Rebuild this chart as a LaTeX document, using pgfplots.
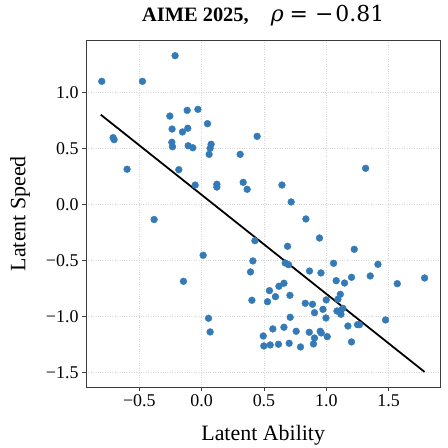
\documentclass[border=0pt]{standalone}
\usepackage{fontspec}
\setmainfont{Liberation Serif}
\newfontfamily\mathserif{DejaVu Serif}
\usepackage{pgfplots}
\pgfplotsset{compat=1.18}
\definecolor{dotblue}{RGB}{52,122,183}
\definecolor{gridgray}{RGB}{215,215,215}
\definecolor{spine}{RGB}{60,60,60}

\begin{document}
\begin{tikzpicture}
\begin{axis}[
  scale only axis,
  width=354bp, height=347bp,
  xmin=-0.927, xmax=1.914, ymin=-1.634, ymax=1.467,
  xtick={-0.5,0,0.5,1,1.5},
  xticklabels={−0.5,0.0,0.5,1.0,1.5},
  ytick={-1.5,-1,-0.5,0,0.5,1},
  yticklabels={−1.5,−1.0,−0.5,0.0,0.5,1.0},
  tick pos=left, tick align=outside, major tick length=4bp,
  grid=major,
  major grid style={gridgray, dotted, line width=0.8pt},
  axis line style={spine, line width=0.8pt},
  tick style={spine, line width=0.8pt},
  ticklabel style={font=\fontsize{18}{20}\selectfont},
  xlabel={Latent Ability},
  ylabel={Latent Speed},
  xlabel style={font=\fontsize{22}{24}\selectfont, at={(rel axis cs:0.5,0)}, anchor=base, yshift=-53bp},
  ylabel style={font=\fontsize{22}{24}\selectfont, at={(rel axis cs:0,0.5)}, anchor=center, yshift=66bp},
  title={\textbf{AIME 2025,}\hspace{22bp}{\mathserif\fontsize{22}{24}\selectfont{\itshape ρ}\hspace{6bp}=\hspace{7bp}−\hspace{2bp}0.81}},
  title style={font=\fontsize{20.5}{24}\selectfont, at={(rel axis cs:0.5,1)}, anchor=base, yshift=13bp},
]
% per-model latent estimates
\addplot[only marks, mark=*, mark size=3.4bp, color=dotblue, fill=dotblue] table {
x y
-0.213 1.327
-0.801 1.098
-0.475 1.098
-0.116 0.839
-0.030 0.848
-0.255 0.788
0.047 0.720
0.445 0.607
-0.237 0.672
-0.111 0.679
-0.154 0.646
-0.710 0.595
-0.702 0.577
-0.239 0.554
-0.234 0.514
-0.108 0.523
-0.071 0.505
0.076 0.536
0.068 0.500
0.060 0.446
0.309 0.446
-0.598 0.313
-0.183 0.309
-0.052 0.172
0.122 0.179
0.122 0.154
0.333 0.196
0.365 0.134
-0.381 -0.136
1.315 0.321
0.644 0.172
0.718 0.021
0.836 -0.131
0.427 -0.325
0.012 -0.455
0.411 -0.506
0.392 -0.604
-0.146 -0.688
0.403 -0.857
0.055 -1.018
0.068 -1.140
0.494 -1.176
0.499 -1.265
0.945 -0.301
0.689 -0.375
1.224 -0.402
0.670 -0.524
0.697 -0.539
1.058 -0.527
1.414 -0.536
0.865 -0.596
0.957 -0.613
1.352 -0.640
1.202 -0.652
1.079 -0.682
1.146 -0.703
1.788 -0.658
1.569 -0.709
0.660 -0.705
0.620 -0.732
0.544 -0.771
0.592 -0.825
0.708 -0.813
1.112 -0.804
1.093 -0.848
0.999 -0.854
0.528 -0.870
0.831 -0.884
0.889 -0.893
0.973 -0.938
1.133 -0.929
1.085 -0.953
1.117 -0.982
1.112 -0.950
0.905 -0.968
0.710 -1.009
0.997 -1.015
1.475 -1.033
1.173 -1.087
1.250 -1.075
1.266 -1.075
0.571 -1.113
0.660 -1.098
0.758 -1.134
0.863 -1.143
0.951 -1.134
0.959 -1.149
1.007 -1.182
0.905 -1.194
1.202 -1.229
0.550 -1.256
0.616 -1.250
0.702 -1.241
0.793 -1.274
0.897 -1.247
};
% least-squares fit
\addplot[black, line width=1.8bp] coordinates {(-0.809,0.800) (1.788,-1.497)};
\end{axis}
\pgfresetboundingbox
\useasboundingbox ([shift={(-86bp,-60.7bp)}]current axis.south west) rectangle ([shift={(7bp,40bp)}]current axis.north east);
\end{tikzpicture}
\end{document}
